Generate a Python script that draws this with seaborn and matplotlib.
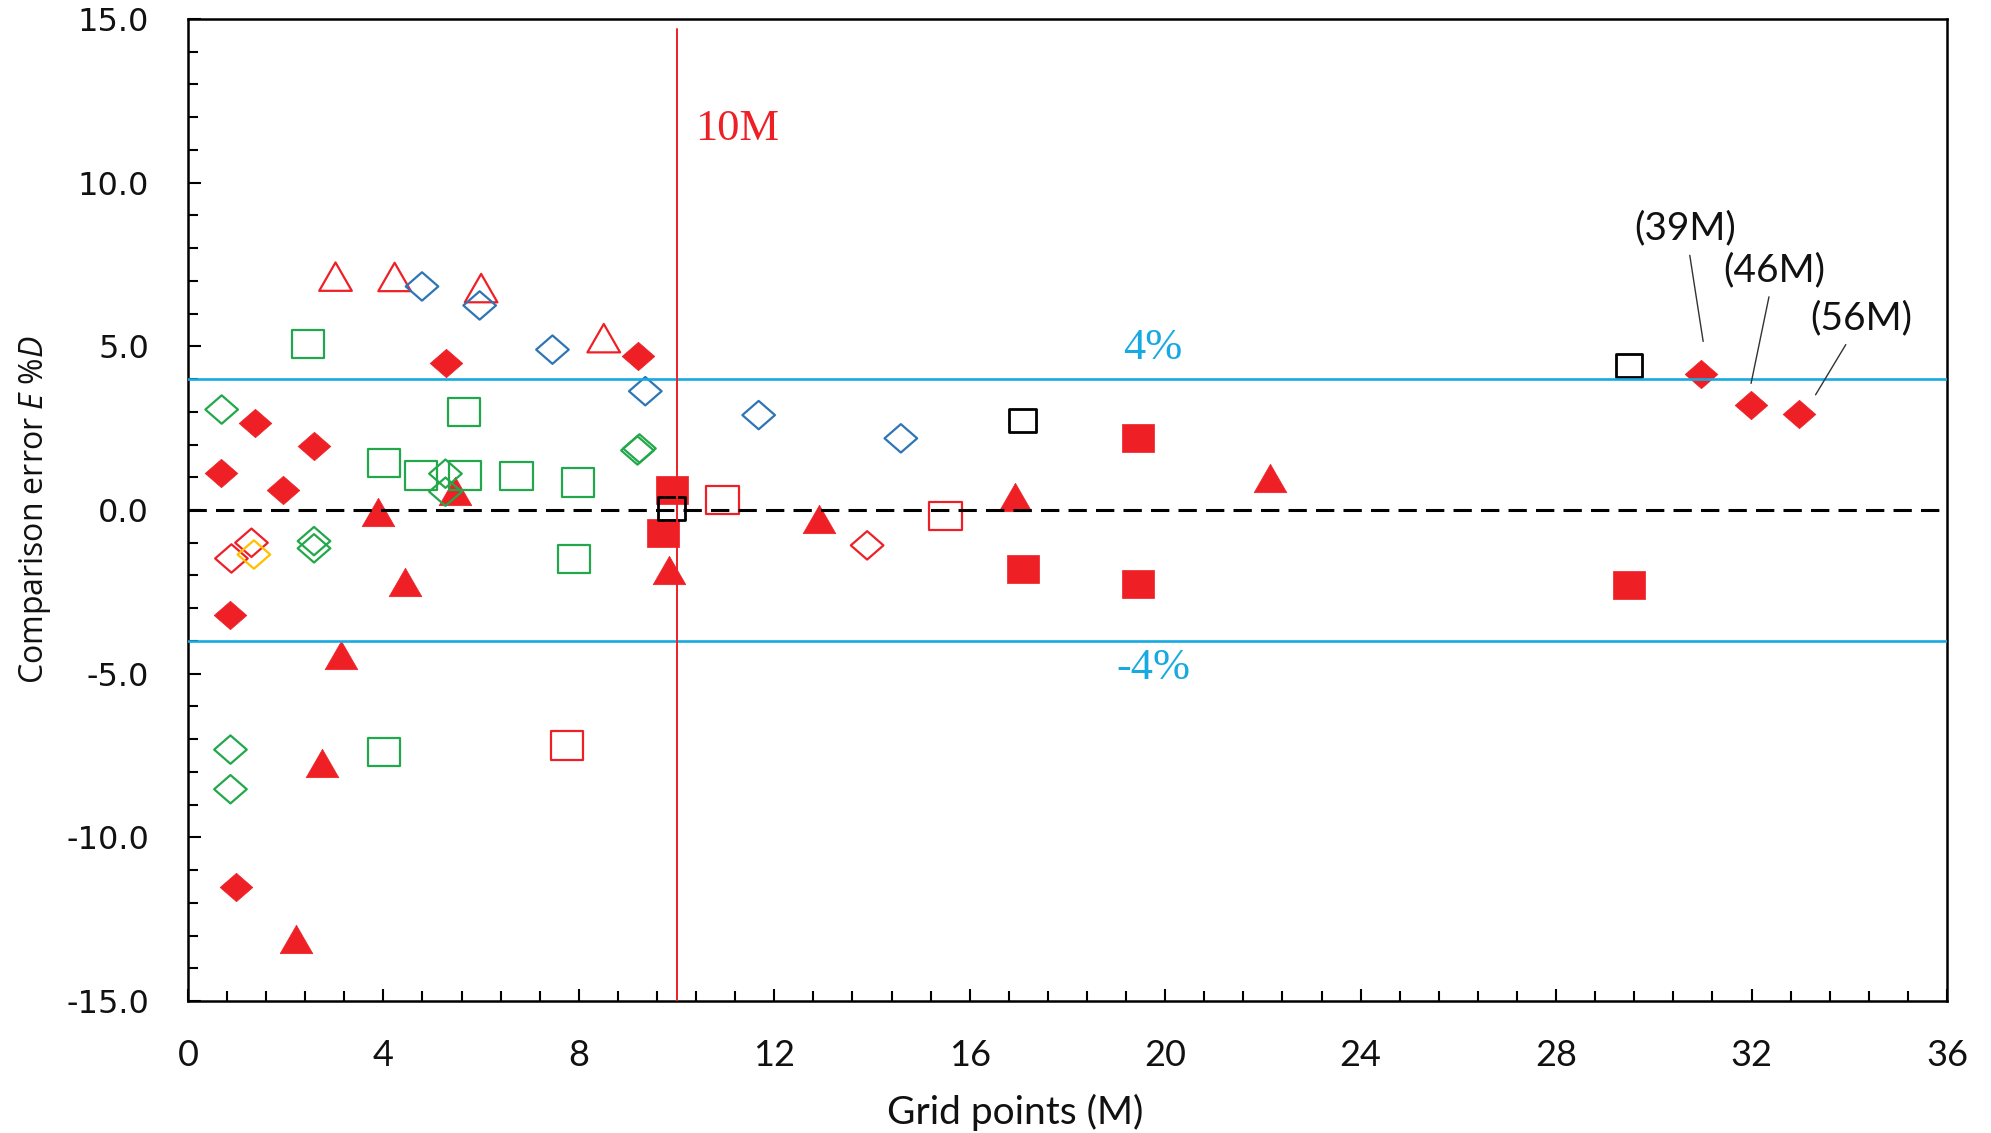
import matplotlib
matplotlib.use("Agg")
import matplotlib.pyplot as plt
from matplotlib.path import Path
from matplotlib.ticker import MultipleLocator, FormatStrFormatter
import seaborn as sns

# ---- data: grid size (millions of points) vs comparison error (%) ----
red_diamond_x = [0.67, 1.38, 1.95, 2.58, 5.29, 9.22, 0.87, 0.98, 30.97, 31.99, 32.98]
red_diamond_y = [1.14, 2.65, 0.60, 1.95, 4.50, 4.72, -3.20, -11.53, 4.15, 3.22, 2.93]

red_triangle_x = [5.47, 3.88, 4.45, 3.14, 2.74, 2.22, 9.84, 12.92, 16.92, 22.14]
red_triangle_y = [0.57, -0.07, -2.20, -4.42, -7.74, -13.12, -1.83, -0.27, 0.40, 0.97]

red_square_x = [9.90, 9.73, 17.09, 19.45, 19.45, 29.49]
red_square_y = [0.62, -0.70, -1.80, 2.20, -2.27, -2.30]

red_open_triangle_x = [3.02, 4.23, 6.00, 8.51]
red_open_triangle_y = [7.13, 7.12, 6.78, 5.25]

red_open_diamond_x = [0.89, 1.30, 13.90]
red_open_diamond_y = [-1.48, -1.00, -1.08]

red_open_square_x = [7.76, 10.94, 15.50]
red_open_square_y = [-7.20, 0.30, -0.18]

blue_open_diamond_x = [4.79, 5.97, 7.46, 9.36, 11.68, 14.59]
blue_open_diamond_y = [6.83, 6.25, 4.90, 3.63, 2.90, 2.19]

green_open_square_x = [2.46, 5.65, 4.01, 4.77, 5.67, 6.72, 7.98, 7.90, 4.01]
green_open_square_y = [5.08, 3.00, 1.43, 1.06, 1.06, 1.04, 0.84, -1.49, -7.40]

green_open_diamond_x = [0.69, 5.27, 5.27, 9.20, 9.24, 2.58, 2.58, 0.87, 0.87]
green_open_diamond_y = [3.07, 1.11, 0.56, 1.82, 1.88, -0.95, -1.17, -7.32, -8.53]

orange_open_diamond_x = [1.35]
orange_open_diamond_y = [-1.36]

black_open_square_x = [9.90, 17.08, 29.49]
black_open_square_y = [0.05, 2.73, 4.42]

# tolerance band and reference grid size
band = 4.0
ref_grid = 10.0

callout_labels = ["(39M)", "(46M)", "(56M)"]
callout_points = [(31.01, 5.15), (31.99, 3.87), (33.31, 3.52)]
callout_text_pos = [(30.65, 8.60), (32.47, 7.33), (34.25, 5.85)]

# ---- style ----
sns.set_style("ticks")
plt.rcParams["font.family"] = ["Open Sans", "DejaVu Sans"]
plt.rcParams["axes.unicode_minus"] = False
plt.rcParams["mathtext.fontset"] = "custom"
plt.rcParams["mathtext.rm"] = "Open Sans"
plt.rcParams["mathtext.it"] = "Open Sans:italic"

RED = "#EE2026"
BLUE = "#2E75B6"
GREEN = "#22A84A"
ORANGE = "#FFC000"
CYAN = "#17A9E1"


def shape(kind, h=0.87):
    if kind == "square":
        v = [(-1, -h), (1, -h), (1, h), (-1, h), (-1, -h)]
    elif kind == "diamond":
        v = [(0, -h), (1, 0), (0, h), (-1, 0), (0, -h)]
    else:
        v = [(0, h), (1, -h), (-1, -h), (0, h)]
    return Path(v, closed=True)


fig = plt.figure(figsize=(19.91, 11.33), dpi=100)
ax = fig.add_axes([0.0944, 0.1165, 0.8835, 0.8667])


def draw(x, y, kind, color, filled, size=23.5, lw=1.6):
    sns.scatterplot(
        x=x, y=y, ax=ax, marker=shape(kind), s=size ** 2, color=color,
        facecolors=color if filled else "none", edgecolor=color,
        linewidth=0.5 if filled else lw, legend=False, zorder=2,
    )


draw(red_diamond_x, red_diamond_y, "diamond", RED, True)
draw(red_triangle_x, red_triangle_y, "triangle", RED, True)
draw(red_square_x, red_square_y, "square", RED, True)
draw(red_open_triangle_x, red_open_triangle_y, "triangle", RED, False)
draw(red_open_diamond_x, red_open_diamond_y, "diamond", RED, False)
draw(red_open_square_x, red_open_square_y, "square", RED, False)
draw(blue_open_diamond_x, blue_open_diamond_y, "diamond", BLUE, False)
draw(green_open_square_x, green_open_square_y, "square", GREEN, False)
draw(green_open_diamond_x, green_open_diamond_y, "diamond", GREEN, False)
draw(orange_open_diamond_x, orange_open_diamond_y, "diamond", ORANGE, False)
draw(black_open_square_x, black_open_square_y, "square", "black", False, size=19, lw=2.0)

# reference lines
ax.axhline(0, color="black", lw=2.2, dashes=(6, 3), zorder=3)
ax.axhline(band, color=CYAN, lw=1.9, zorder=3)
ax.axhline(-band, color=CYAN, lw=1.9, zorder=3)
ax.axvline(ref_grid, ymin=0, ymax=(14.7 + 15) / 30, color=RED, lw=1.4, zorder=3)

ax.text(ref_grid + 0.38, 11.65, "10M", color=RED, fontsize=32,
        family="Liberation Serif", ha="left", va="center")
ax.text(19.75, band + 0.95, "4%", color=CYAN, fontsize=32,
        family="Liberation Serif", ha="center", va="center")
ax.text(19.75, -band - 0.83, "-4%", color=CYAN, fontsize=32,
        family="Liberation Serif", ha="center", va="center")

for lab, pt, tp in zip(callout_labels, callout_points, callout_text_pos):
    ax.annotate(lab, xy=pt, xytext=tp, fontsize=28, family="Lato",
                color="#111111", ha="center", va="center",
                arrowprops=dict(arrowstyle="-", color="#333333", lw=1.0,
                                shrinkA=4, shrinkB=0))

# axes
ax.set_xlim(0, 36)
ax.set_ylim(-15, 15)
ax.xaxis.set_major_locator(MultipleLocator(4))
ax.xaxis.set_minor_locator(MultipleLocator(0.8))
ax.yaxis.set_major_locator(MultipleLocator(5))
ax.yaxis.set_minor_locator(MultipleLocator(1))
ax.yaxis.set_major_formatter(FormatStrFormatter("%.1f"))

ax.tick_params(which="both", direction="in", top=False, right=False,
               width=1.5, color="black")
ax.tick_params(which="major", length=9)
ax.tick_params(which="minor", length=7)
ax.tick_params(axis="y", pad=28, labelsize=23, labelcolor="#111111",
               labelfontfamily="DejaVu Sans")
ax.tick_params(axis="x", pad=27, labelsize=26, labelcolor="#111111",
               labelfontfamily="Lato")

for side in ["left", "right", "top", "bottom"]:
    ax.spines[side].set_visible(True)
    ax.spines[side].set_linewidth(1.8)
    ax.spines[side].set_color("black")

ax.set_xlabel("Grid points (M)", fontsize=28, family="Lato", color="#111111")
ax.set_ylabel("Comparison error $E$ %$D$", fontsize=23, color="#111111")
ax.xaxis.set_label_coords(0.47, -0.095)
ax.yaxis.set_label_coords(-0.077, 0.5)

fig.savefig("out.png", dpi=100)
